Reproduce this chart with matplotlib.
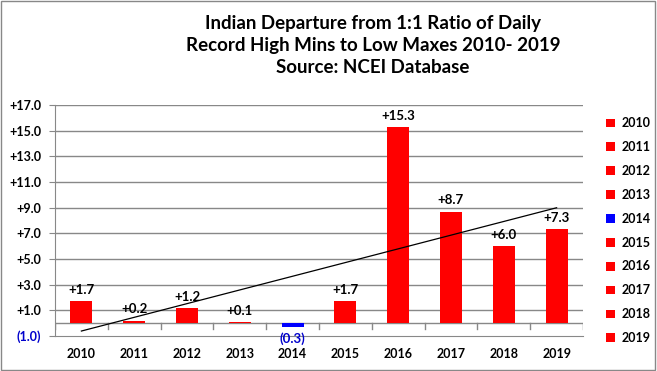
import numpy as np
import matplotlib.pyplot as plt
from matplotlib.patches import Patch, Rectangle

years = ['2010', '2011', '2012', '2013', '2014', '2015', '2016', '2017', '2018', '2019']
departure = [1.7, 0.2, 1.2, 0.1, -0.3, 1.7, 15.3, 8.7, 6.0, 7.3]
yticks = [-1, 1, 3, 5, 7, 9, 11, 13, 15, 17]

plt.rcParams['font.family'] = ['Lato', 'DejaVu Sans']

def fmt(v):
    return '({:.1f})'.format(abs(v)) if v < 0 else '+{:.1f}'.format(v)

colors = ['#0000ff' if v < 0 else '#ff0000' for v in departure]

fig = plt.figure(figsize=(6.57, 3.71), dpi=100)
ax = fig.add_axes([55 / 657, 35 / 371, 528 / 657, 231 / 371])
fig.patches.append(Rectangle((0.002, 0.003), 0.995, 0.994, transform=fig.transFigure,
                             fill=False, edgecolor='#888888', linewidth=1))

x = np.arange(len(years))
ax.bar(x, departure, width=0.42, color=colors, zorder=3)

# linear trend
slope, icpt = np.polyfit(x, departure, 1)
ax.plot([x[0], x[-1]], [icpt, icpt + slope * x[-1]], color='black', linewidth=0.9, zorder=4)

for xi, v in zip(x, departure):
    if v < 0:
        ax.text(xi, v - 0.4, fmt(v), ha='center', va='top', fontsize=9.5,
                fontweight='bold', color='#0000cc')
    else:
        ax.text(xi, v + 0.4, fmt(v), ha='center', va='bottom', fontsize=9.5,
                fontweight='bold', color='black')

ax.set_xlim(-0.5, len(years) - 0.5)
ax.set_ylim(-1, 17)
ax.set_yticks(yticks)
ax.set_yticklabels([fmt(t) for t in yticks], fontsize=9, fontweight='bold')
for lbl, t in zip(ax.get_yticklabels(), yticks):
    if t < 0:
        lbl.set_color('#0000cc')
ax.tick_params(axis='y', length=4, color='#888888', pad=6)

ax.set_xticks(x)
ax.set_xticklabels(years, fontsize=9, fontweight='bold')
ax.tick_params(axis='x', length=0, pad=9)

for t in yticks[1:]:
    ax.axhline(t, color='#888888', linewidth=1, zorder=1)
ax.axhline(0, color='#888888', linewidth=1, zorder=2)
for b in np.arange(-0.5, len(years), 1.0):
    ax.plot([b, b], [0, -0.45], color='#888888', linewidth=1, zorder=2)

for s in ['top', 'right']:
    ax.spines[s].set_visible(False)
for s in ['left', 'bottom']:
    ax.spines[s].set_color('#888888')

fig.text(0.568, 1 - 15 / 371, 'Indian Departure from 1:1 Ratio of Daily\nRecord High Mins to Low Maxes 2010- 2019\nSource: NCEI Database',
         ha='center', va='top', fontsize=13.5, fontweight='bold', linespacing=1.35)

handles = [Patch(facecolor=c, edgecolor='none') for c in colors]
leg = fig.legend(handles, years, loc='upper left', bbox_to_anchor=(600 / 657, 1 - 111 / 371),
                 frameon=False, fontsize=9, handlelength=0.7, handleheight=0.7,
                 handletextpad=0.5, labelspacing=0.95, borderpad=0)
for t in leg.get_texts():
    t.set_fontweight('bold')

fig.savefig('out.png', dpi=100)
